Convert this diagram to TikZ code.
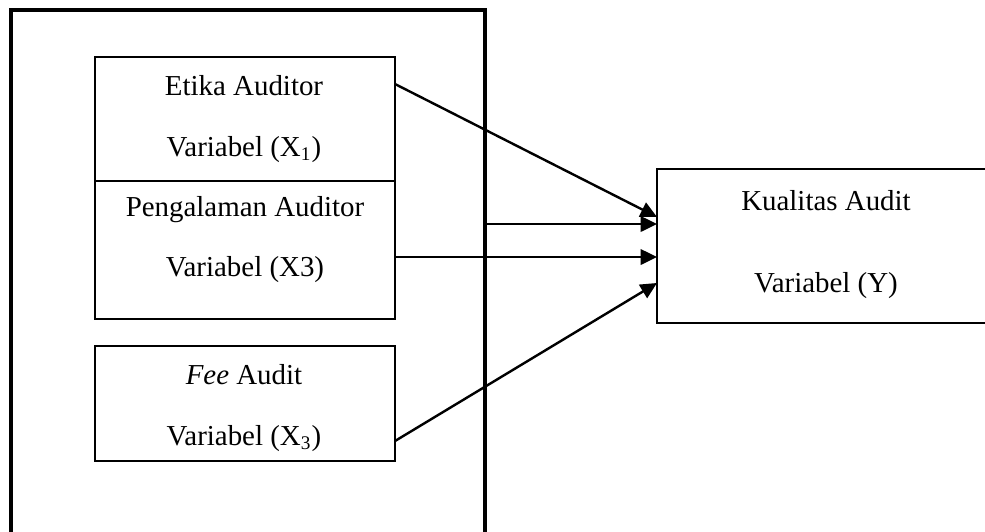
\documentclass[tikz,border=0pt]{standalone}
\usepackage{fontspec}
\setmainfont{Liberation Serif}
\usetikzlibrary{arrows.meta}
\newcommand{\PxLen}{0.415pt}

\begin{document}
\begin{tikzpicture}[x=0.415pt,y=-0.415pt,
  varbox/.style={draw, line width=0.9pt, inner sep=0pt, outer sep=0pt},
  lbl/.style={align=center, font=\fontsize{12}{25}\selectfont},
  arr/.style={-{Triangle[length=6.8pt,width=6.4pt]}, line width=1pt}]
\useasboundingbox (0,0) rectangle (985,531);

% outer frame (runs below the page)
\node[varbox, line width=1.6pt, minimum width=474*\PxLen, minimum height=550*\PxLen] (outer) at (248,285) {};

\node[varbox, minimum width=300*\PxLen, minimum height=124*\PxLen] (etika) at (245,119) {};
\node[varbox, minimum width=300*\PxLen, minimum height=138*\PxLen] (peng) at (245,250) {};
\node[varbox, minimum width=300*\PxLen, minimum height=115*\PxLen] (fee) at (245,403.5) {};
\node[varbox, minimum width=353*\PxLen, minimum height=154*\PxLen] (kual) at (833.5,246) {};

\node[lbl] (etikaTxt) at (244,119) {Etika Auditor\\Variabel (X\textsubscript{1})};
\node[lbl] (pengTxt) at (245,239.5) {Pengalaman Auditor\\Variabel (X3)};
\node[lbl] (feeTxt) at (244,408) {\textit{Fee} Audit\\Variabel (X\textsubscript{3})};
\node[lbl, font=\fontsize{12}{34}\selectfont] (kualTxt) at (826,244.5) {Kualitas Audit\\Variabel (Y)};

\draw[arr] ([shift={(0,-35)}]etika.east) -- ([shift={(0,-29)}]kual.west);
\draw[arr] (outer.east |- 0,224) -- (kual.west |- 0,224);
\draw[arr] ([shift={(0,7)}]peng.east) -- ([shift={(0,11)}]kual.west);
\draw[arr] ([shift={(0,37.5)}]fee.east) -- ([shift={(0,37)}]kual.west);
\end{tikzpicture}
\end{document}
